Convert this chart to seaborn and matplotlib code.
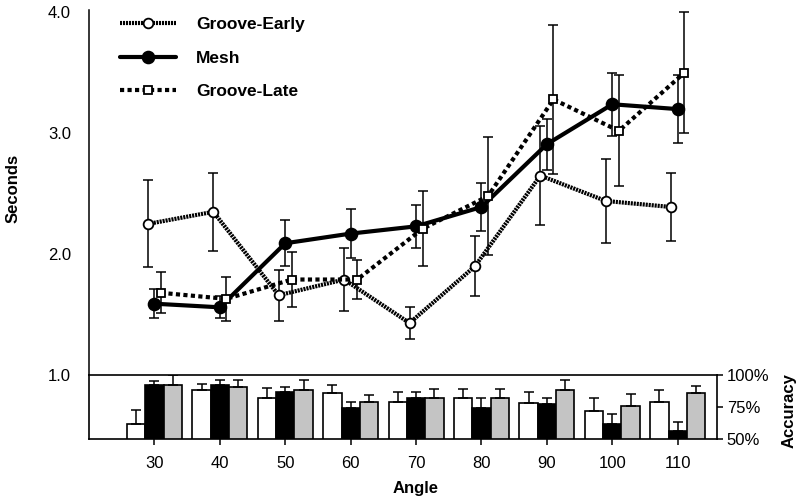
import numpy as np
import pandas as pd
import matplotlib
matplotlib.use("Agg")
import matplotlib.pyplot as plt
import seaborn as sns

# values
angles = [30, 40, 50, 60, 70, 80, 90, 100, 110]
series = ["Groove-Early", "Mesh", "Groove-Late"]

# response time (seconds) and error bar half-lengths
early_sec = [2.25, 2.35, 1.66, 1.79, 1.43, 1.90, 2.65, 2.44, 2.39]
early_err = [0.36, 0.32, 0.21, 0.26, 0.13, 0.25, 0.41, 0.35, 0.28]
mesh_sec = [1.59, 1.56, 2.09, 2.17, 2.23, 2.39, 2.91, 3.24, 3.20]
mesh_err = [0.12, 0.09, 0.19, 0.20, 0.18, 0.20, 0.21, 0.26, 0.28]
late_sec = [1.68, 1.63, 1.79, 1.79, 2.21, 2.48, 3.28, 3.02, 3.50]
late_err = [0.17, 0.18, 0.23, 0.16, 0.31, 0.49, 0.62, 0.46, 0.50]

# accuracy (%) and upper error bars
early_acc = [62, 88, 82, 86, 79, 82, 78.5, 72, 79]
early_acc_err = [11, 5, 8, 6.5, 8, 7, 8, 10, 9]
mesh_acc = [92, 92, 86.5, 74, 82, 74, 77.5, 62, 56.5]
mesh_acc_err = [3, 4, 4.5, 5, 5, 8, 4.5, 7.5, 6.5]
late_acc = [92, 91, 88.5, 79, 82, 82, 88, 76, 86]
late_acc_err = [8, 5, 7.5, 5, 7, 7, 8, 9, 5.5]

sec = {"Groove-Early": early_sec, "Mesh": mesh_sec, "Groove-Late": late_sec}
sec_err = {"Groove-Early": early_err, "Mesh": mesh_err, "Groove-Late": late_err}
acc = {"Groove-Early": early_acc, "Mesh": mesh_acc, "Groove-Late": late_acc}
acc_err = {"Groove-Early": early_acc_err, "Mesh": mesh_acc_err, "Groove-Late": late_acc_err}

sns.set_theme(style="ticks", rc={"axes.edgecolor": "black", "text.color": "black",
                                 "xtick.color": "black", "ytick.color": "black",
                                 "axes.labelcolor": "black"})
plt.rcParams["font.family"] = ["Liberation Sans", "DejaVu Sans"]

W, H = 801, 500
fig = plt.figure(figsize=(W / 100, H / 100), dpi=100)
left, right = 89, 717
ax = fig.add_axes([left / W, (H - 375) / H, (right - left) / W, (375 - 10) / H])
axb = fig.add_axes([left / W, (H - 439) / H, (right - left) / W, (439 - 375) / H], sharex=ax)

styles = {
    "Groove-Early": dict(lw=3.0, dashes=(0.5, 0.22), marker="o", mfc="white", ms=7, shift=-1.0),
    "Mesh": dict(lw=3.0, dashes=None, marker="o", mfc="black", ms=8.5, shift=0.0),
    "Groove-Late": dict(lw=3.0, dashes=(1.0, 0.8), marker="s", mfc="white", ms=6.3, shift=1.0),
}

for name in series:
    st = styles[name]
    x = np.array(angles) + st["shift"]
    ax.errorbar(x, sec[name], yerr=sec_err[name], fmt="none", ecolor="black",
                elinewidth=1.1, capsize=3.5, capthick=1.1, zorder=2)
    df = pd.DataFrame({"angle": x, "sec": sec[name]})
    line_kw = dict(color="black", lw=st["lw"], marker=st["marker"], markerfacecolor=st["mfc"],
                   markeredgecolor="black", markeredgewidth=1.3, markersize=st["ms"])
    if st["dashes"] is not None:
        line_kw["dashes"] = st["dashes"]
    sns.lineplot(data=df, x="angle", y="sec", ax=ax, label=name, zorder=3, **line_kw)

ax.set_xlim(20, 116)
ax.set_ylim(1.0, 4.02)
ax.set_yticks([1, 2, 3, 4])
ax.set_yticklabels(["1.0", "2.0", "3.0", "4.0"])
ax.tick_params(axis="y", length=0, pad=13, labelsize=12)
ax.tick_params(axis="x", bottom=False, labelbottom=False)
for s in ["top", "right", "bottom"]:
    ax.spines[s].set_visible(False)
ax.spines["left"].set_linewidth(1.1)
ax.set_xlabel("")
ax.set_ylabel("Seconds", fontsize=12, fontweight="bold")
ax.yaxis.set_label_coords(-(left - 21) / (right - left), 0.512)

ax.legend(loc="upper left", bbox_to_anchor=(0.05, 0.98), frameon=False, borderpad=0,
          borderaxespad=0, handlelength=3.2, handletextpad=1.15, labelspacing=1.05,
          prop={"weight": "bold", "size": 12.5})

# accuracy panel
bar_df = pd.DataFrame({
    "angle": np.tile(angles, len(series)),
    "acc": np.concatenate([acc[n] for n in series]),
    "series": np.repeat(series, len(angles)),
})
sns.barplot(data=bar_df, x="angle", y="acc", hue="series", hue_order=series,
            native_scale=True, width=0.84, palette=["white", "black", "#c4c4c4"],
            edgecolor="black", linewidth=1.2, errorbar=None, legend=False, ax=axb)
for name, cont in zip(series, axb.containers):
    xs = [p.get_x() + p.get_width() / 2 for p in cont]
    ys = acc[name]
    axb.errorbar(xs, ys, yerr=[np.zeros(len(ys)), acc_err[name]], fmt="none",
                 ecolor="black", elinewidth=1.1, capsize=3.5, capthick=1.1, zorder=1)

axb.set_xlim(20, 116)
axb.set_ylim(50, 100)
axb.set_xticks(angles)
axb.set_xticklabels([str(a) for a in angles])
axb.yaxis.tick_right()
axb.set_yticks([50, 75, 100])
axb.set_yticklabels(["50%", "75%", "100%"])
axb.tick_params(axis="both", direction="out", length=4, width=1.1, labelsize=12)
axb.tick_params(axis="x", pad=8)
axb.tick_params(axis="y", pad=3)
for s in axb.spines.values():
    s.set_linewidth(1.2)
axb.set_xlabel("Angle", fontsize=12, fontweight="bold")
axb.xaxis.set_label_coords((416 - left) / (right - left), -0.66)
axb.set_ylabel("Accuracy", fontsize=12, fontweight="bold", rotation=90)
axb.yaxis.set_label_position("right")
axb.yaxis.set_label_coords((782 - left) / (right - left), 0.45)

fig.savefig("out.png", dpi=100)
